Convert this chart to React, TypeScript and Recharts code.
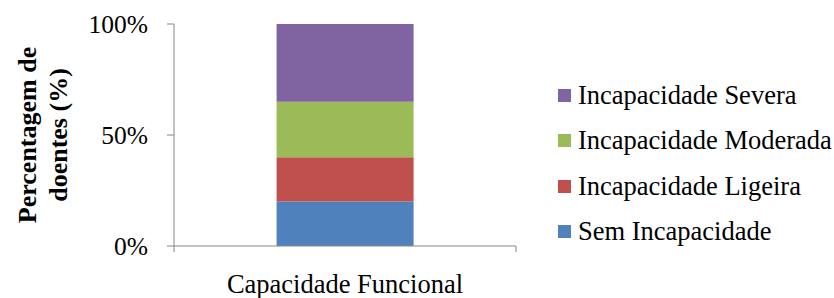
import React from 'react';
import { BarChart, Bar, XAxis, YAxis, Legend } from 'recharts';

const categories = ['Capacidade Funcional'];
const seriesNames = ['Sem Incapacidade', 'Incapacidade Ligeira', 'Incapacidade Moderada', 'Incapacidade Severa'];
const seriesKeys = ['sem', 'ligeira', 'moderada', 'severa'];
const seriesColors = ['#4F81BD', '#C0504D', '#9BBB59', '#8064A2'];
const semValues = [20];
const ligeiraValues = [20];
const moderadaValues = [25];
const severaValues = [35];
const yTicks = [0, 50, 100];

const data = categories.map((name, i) => ({
  name,
  sem: semValues[i],
  ligeira: ligeiraValues[i],
  moderada: moderadaValues[i],
  severa: severaValues[i],
}));

const FONT = '"Liberation Serif", "Times New Roman", serif';
const AXIS = '#868686';
const LEGEND_W = 276;

const XTick = (props: any) => {
  const { x, y, payload } = props;
  const half = payload && payload.offset ? payload.offset : 171;
  const axisY = y - 8;
  return (
    <g>
      <line x1={x - half} x2={x - half} y1={axisY} y2={axisY + 6} stroke={AXIS} strokeWidth={1} />
      <line x1={x + half} x2={x + half} y1={axisY} y2={axisY + 6} stroke={AXIS} strokeWidth={1} />
      <text x={x} y={axisY + 47} textAnchor="middle" fontFamily={FONT} fontSize={26.5} fill="#000">
        {payload.value}
      </text>
    </g>
  );
};

const YLabel = (props: any) => {
  const vb = props.viewBox || { x: 0, y: 24, width: 174, height: 222 };
  const cy = vb.y + vb.height / 2;
  return (
    <text
      transform={`translate(${vb.x + 36},${cy}) rotate(-90)`}
      textAnchor="middle"
      fontFamily={FONT}
      fontWeight="bold"
      fontSize={26}
      fill="#000"
    >
      <tspan x={0} y={0}>Percentagem de</tspan>
      <tspan x={0} y={31}>doentes (%)</tspan>
    </text>
  );
};

const LegendContent = () => {
  const order = [3, 2, 1, 0];
  return (
    <div style={{ fontFamily: FONT, fontSize: 26.5, color: '#000' }}>
      {order.map((i) => (
        <div key={seriesKeys[i]} style={{ height: 45.3, display: 'flex', alignItems: 'center', whiteSpace: 'nowrap' }}>
          <span style={{ display: 'inline-block', width: 13, height: 13, background: seriesColors[i], marginRight: 7 }} />
          <span>{seriesNames[i]}</span>
        </div>
      ))}
    </div>
  );
};

export default function App() {
  return (
    <div style={{ position: 'absolute', left: 0, top: 0, width: 834, height: 298, background: '#fff' }}>
      <BarChart
        width={834}
        height={298}
        data={data}
        margin={{ top: 24, right: 318 - LEGEND_W, bottom: 0, left: 0 }}
        barCategoryGap="30%"
      >
        <XAxis
          dataKey="name"
          height={52}
          tickLine={false}
          tickSize={6}
          tickMargin={2}
          axisLine={{ stroke: AXIS, strokeWidth: 1 }}
          tick={<XTick />}
          interval={0}
        />
        <YAxis
          width={174}
          domain={[0, 100]}
          ticks={yTicks}
          tickFormatter={(v: number) => `${v}%`}
          axisLine={{ stroke: AXIS, strokeWidth: 1 }}
          tickLine={{ stroke: AXIS, strokeWidth: 1 }}
          tickSize={7}
          tickMargin={19}
          tick={{ fontFamily: FONT, fontSize: 25.5, fill: '#000' }}
          label={<YLabel />}
        />
        <Legend
          layout="vertical"
          align="right"
          verticalAlign="middle"
          content={<LegendContent />}
          wrapperStyle={{ position: 'absolute', left: 558, top: 73, width: LEGEND_W, height: 182 }}
        />
        {seriesKeys.map((k, i) => (
          <Bar key={k} dataKey={k} name={seriesNames[i]} stackId="a" fill={seriesColors[i]} isAnimationActive={false} />
        ))}
      </BarChart>
    </div>
  );
}
